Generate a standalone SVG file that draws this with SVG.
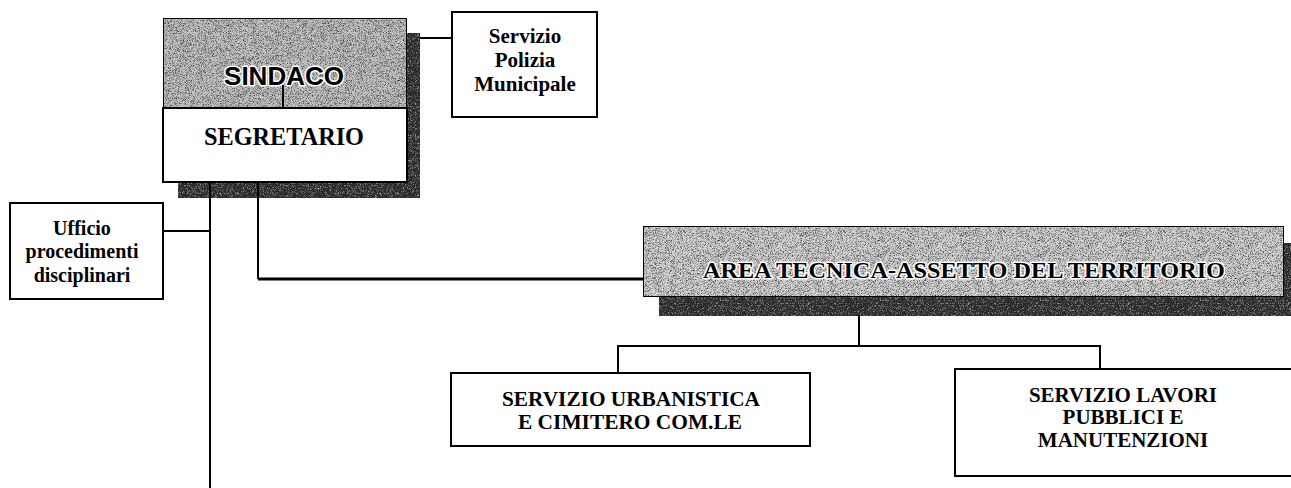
<svg xmlns="http://www.w3.org/2000/svg" width="1291" height="488" viewBox="0 0 1291 488">
<defs>
<filter id="grain" x="0" y="0" width="100%" height="100%" color-interpolation-filters="sRGB">
<feTurbulence type="fractalNoise" baseFrequency="1.6" numOctaves="1" seed="7" result="n"/>
<feColorMatrix in="n" type="matrix" values="0 0 0 0 0  0 0 0 0 0  0 0 0 0 0  2.2 0 0 0 -1.0" result="dots"/>
<feComposite in="dots" in2="SourceGraphic" operator="in" result="d2"/>
<feMerge><feMergeNode in="SourceGraphic"/><feMergeNode in="d2"/></feMerge>
</filter>
<filter id="grainDark" x="0" y="0" width="100%" height="100%" color-interpolation-filters="sRGB">
<feTurbulence type="fractalNoise" baseFrequency="1.6" numOctaves="1" seed="11" result="n"/>
<feColorMatrix in="n" type="matrix" values="0 0 0 0 1  0 0 0 0 1  0 0 0 0 1  2 0 0 0 -1.0" result="dots"/>
<feComposite in="dots" in2="SourceGraphic" operator="in" result="d2"/>
<feMerge><feMergeNode in="SourceGraphic"/><feMergeNode in="d2"/></feMerge>
</filter>
</defs>
<style>
.box{fill:#fff;stroke:#000;stroke-width:2}
.grey{fill:#c2c2c2;stroke:#000;stroke-width:2}
.light{fill:#d2d2d2;stroke:#000;stroke-width:2}
.shadow{fill:#2a2a2a}
.t{font-family:"Liberation Serif","Times New Roman",serif;font-weight:bold;fill:#000;text-anchor:middle}
.s{font-family:"Liberation Sans",Arial,sans-serif;font-weight:bold;fill:#000;text-anchor:middle}
.halo{stroke:#fff;stroke-width:3;paint-order:stroke;stroke-linejoin:round}
.c{fill:none;stroke:#000;stroke-width:2}
.thick{fill:none;stroke:#000;stroke-width:3}
</style>
<rect width="1291" height="488" fill="#fff"/>
<g id="connectors">
<path class="c" d="M420,38 H452"/>
<path class="c" d="M163,231 H210"/>
<path class="thick" d="M258,279 H643"/>
<path class="c" d="M618,373 V346 H1100 V369"/>
</g>
<g id="sindaco-segretario">
<rect class="shadow" x="407" y="33" width="13" height="165" filter="url(#grainDark)"/>
<rect class="shadow" x="178" y="182" width="242" height="16" filter="url(#grainDark)"/>
<g id="sindaco">
<rect class="grey" x="163" y="18" width="244" height="90" filter="url(#grain)"/>
<text class="s halo" x="284" y="85" font-size="26">SINDACO</text>
<path class="c" d="M283,85 V108"/>
</g>
<g id="segretario">
<rect class="box" x="163" y="108" width="244" height="74"/>
<text class="t" x="284" y="145" font-size="25" textLength="160" lengthAdjust="spacingAndGlyphs">SEGRETARIO</text>
</g>
</g>
<g id="connectors-2">
<path class="c" d="M210,182 V488"/>
<path class="c" d="M258,182 V279"/>
<path class="c" d="M859,297 V346"/>
</g>
<g id="polizia">
<rect class="box" x="452" y="12" width="145" height="105"/>
<text class="t" x="525" y="43" font-size="21">Servizio</text>
<text class="t" x="525" y="67" font-size="21">Polizia</text>
<text class="t" x="525" y="91" font-size="21">Municipale</text>
</g>
<g id="ufficio">
<rect class="box" x="10" y="203" width="153" height="96"/>
<text class="t" x="82" y="235" font-size="20">Ufficio</text>
<text class="t" x="82" y="258" font-size="20">procedimenti</text>
<text class="t" x="82" y="282" font-size="20">disciplinari</text>
</g>
<g id="area">
<rect class="shadow" x="1284" y="243" width="7" height="73" filter="url(#grainDark)"/>
<rect class="shadow" x="659" y="297" width="632" height="19" filter="url(#grainDark)"/>
<rect class="light" x="643" y="226" width="641" height="71" filter="url(#grain)"/>
<text class="t halo" x="964" y="278" font-size="24" textLength="522" lengthAdjust="spacingAndGlyphs">AREA TECNICA-ASSETTO DEL TERRITORIO</text>
</g>
<g id="urbanistica">
<rect class="box" x="451" y="373" width="359" height="73"/>
<text class="t" x="631" y="406" font-size="20" textLength="258" lengthAdjust="spacingAndGlyphs">SERVIZIO URBANISTICA</text>
<text class="t" x="630" y="429" font-size="20" textLength="224" lengthAdjust="spacingAndGlyphs">E CIMITERO COM.LE</text>
</g>
<g id="lavori">
<rect class="box" x="955" y="369" width="340" height="107"/>
<text class="t" x="1123" y="402" font-size="21">SERVIZIO LAVORI</text>
<text class="t" x="1123" y="424" font-size="21">PUBBLICI E</text>
<text class="t" x="1123" y="447" font-size="21">MANUTENZIONI</text>
</g>
</svg>
